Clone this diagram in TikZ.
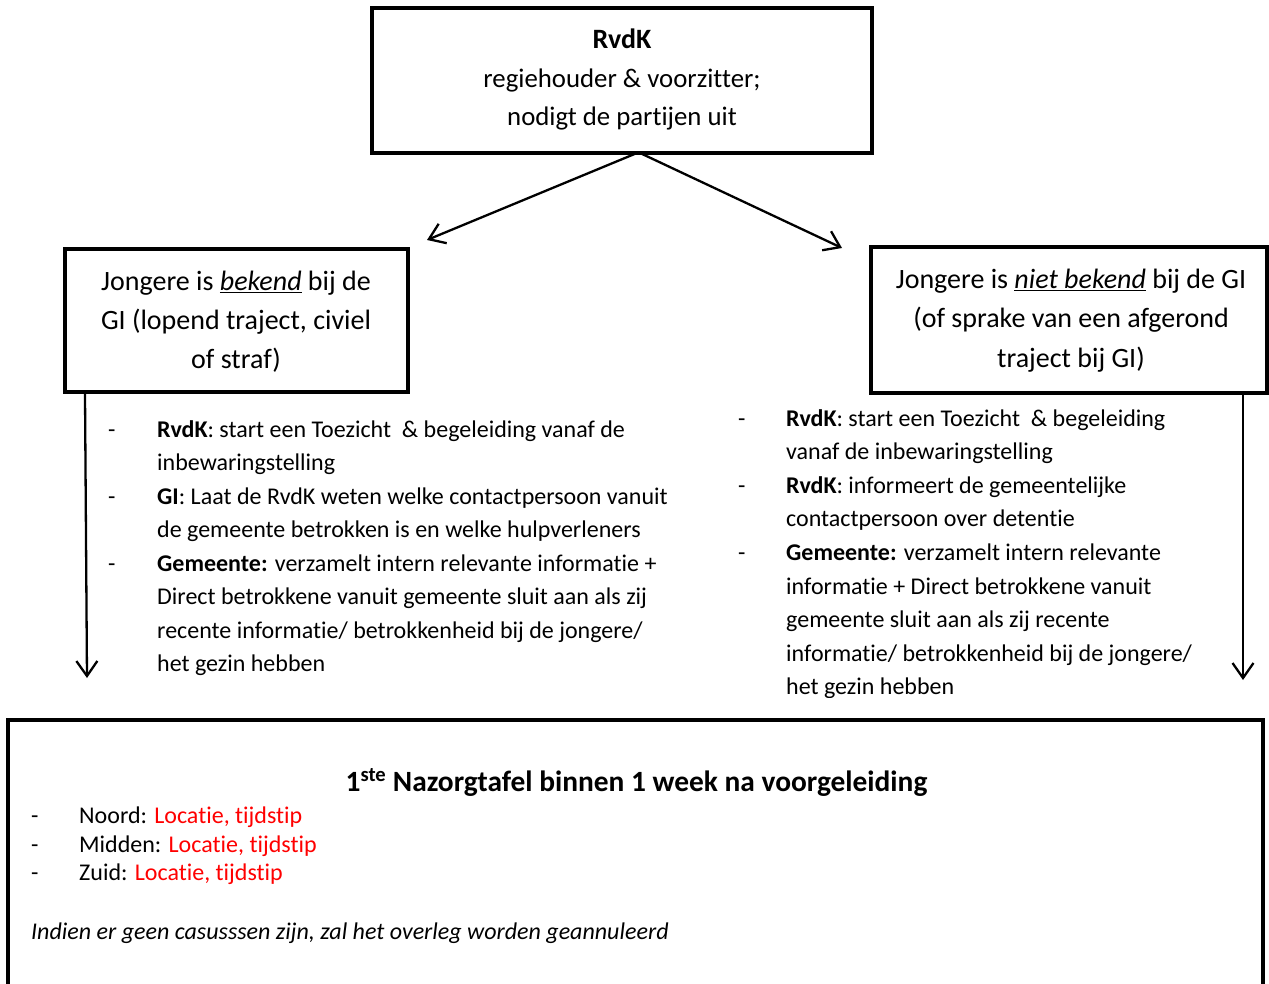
\documentclass[tikz,border=0pt]{standalone}
\usepackage{fontspec}
\setmainfont{Carlito}[Ligatures=NoCommon, Contextuals=NoAlternate, RawFeature={-liga;-clig;-calt;-dlig;-rlig;-ccmp}]
\usetikzlibrary{arrows.meta,calc}
\definecolor{locred}{RGB}{255,0,0}
\tikzset{
  boxstyle/.style={draw, line width=4pt, inner sep=0pt},
  conn/.style={line width=2.3pt, -{Straight Barb[length=15pt,width=21pt,line width=2.3pt]}},
  boxtext/.style={anchor=base, inner sep=0pt, font=\fontsize{28}{34}\selectfont},
  toptext/.style={anchor=base, inner sep=0pt, font=\fontsize{26.8}{34}\selectfont},
  bultext/.style={anchor=base west, inner sep=0pt, font=\fontsize{24}{29}\selectfont},
  bottext/.style={anchor=base west, inner sep=0pt, font=\fontsize{24}{29}\selectfont},
  titletext/.style={anchor=base, inner sep=0pt, font=\fontsize{29.4}{34}\selectfont\bfseries},
}
\begin{document}
\begin{tikzpicture}[x=1pt,y=-1pt]
\useasboundingbox (0,0) rectangle (1269,984);
\clip (0,0) rectangle (1269,984);

% boxes
\node (top) [boxstyle, minimum width=500pt, minimum height=145pt] at (622,80.5) {};
\node (left) [boxstyle, minimum width=343pt, minimum height=143pt] at (236.5,320.5) {};
\node (right) [boxstyle, minimum width=396pt, minimum height=146pt] at (1069,320) {};
\node (bottom) [boxstyle, minimum width=1255pt, minimum height=300pt] at (635.5,870) {};

% top box text
\node (t1) [boxtext] at (622,49) {\textbf{RvdK}};
\node (t2) [toptext] at (622,88) {regiehouder \& voorzitter;};
\node (t3) [toptext] at (622,126) {nodigt de partijen uit};

% left box text
\node (l1) [boxtext] at (236,290.5) {Jongere is \underline{\textit{bekend}} bij de};
\node (l2) [boxtext] at (236,329.5) {GI (lopend traject, civiel};
\node (l3) [boxtext] at (236,368.5) {of straf)};

% right box text
\node (r1) [boxtext] at (1071,288.5) {Jongere is \underline{\textit{niet bekend}} bij de GI};
\node (r2) [boxtext] at (1071,327.5) {(of sprake van een afgerond};
\node (r3) [boxtext] at (1071,367) {traject bij GI)};

% connectors
\coordinate (split1) at (637,153);
\coordinate (split2) at (640,153);
\coordinate (ltip) at (427,240);
\coordinate (rtip) at (842,248);
\draw[conn] (split1) -- (ltip);
\draw[conn] (split2) -- (rtip);
\coordinate (lstart) at ($(left.south west)+(22,0)$);
\coordinate (lend) at (87,678);
\coordinate (rstart) at (1243,393);
\coordinate (rend) at (1243,680);
\draw[conn] (lstart) -- (lend);
\draw[conn] (rstart) -- (rend);

% left bullets
\node (ld1) [bultext] at (108,437) {-};
\node (ld2) [bultext] at (108,504) {-};
\node (ld3) [bultext] at (108,571) {-};
\node (lb1) [bultext] at (157,437) {\textbf{RvdK}: start een Toezicht\ \ \& begeleiding vanaf de};
\node (lb2) [bultext] at (157,470.5) {inbewaringstelling};
\node (lb3) [bultext] at (157,504) {\textbf{GI}: Laat de RvdK weten welke contactpersoon vanuit};
\node (lb4) [bultext] at (157,537.5) {de gemeente betrokken is en welke hulpverleners};
\node (lb5) [bultext] at (157,571) {\textbf{Gemeente:} verzamelt intern relevante informatie +};
\node (lb6) [bultext] at (157,604.5) {Direct betrokkene vanuit gemeente sluit aan als zij};
\node (lb7) [bultext] at (157,638) {recente informatie/ betrokkenheid bij de jongere/};
\node (lb8) [bultext] at (157,671.5) {het gezin hebben};

% right bullets
\begin{scope}
\clip (700,395) rectangle (1230,697);
\node (rd1) [bultext] at (738,426) {-};
\node (rd2) [bultext] at (738,493.2) {-};
\node (rd3) [bultext] at (738,560.4) {-};
\node (rb1) [bultext] at (786,426) {\textbf{RvdK}: start een Toezicht\ \ \& begeleiding};
\node (rb2) [bultext] at (786,459.6) {vanaf de inbewaringstelling};
\node (rb3) [bultext] at (786,493.2) {\textbf{RvdK}: informeert de gemeentelijke};
\node (rb4) [bultext] at (786,526.8) {contactpersoon over detentie};
\node (rb5) [bultext] at (786,560.4) {\textbf{Gemeente:} verzamelt intern relevante};
\node (rb6) [bultext] at (786,594) {informatie + Direct betrokkene vanuit};
\node (rb7) [bultext] at (786,627.6) {gemeente sluit aan als zij recente};
\node (rb8) [bultext] at (786,661.2) {informatie/ betrokkenheid bij de jongere/};
\node (rb9) [bultext] at (786,694.8) {het gezin hebben};
\end{scope}

% bottom box text
\node (bt) [titletext] at (636.5,791) {1\textsuperscript{ste} Nazorgtafel binnen 1 week na voorgeleiding};
\node (bd1) [bottext] at (31,823) {-};
\node (bd2) [bottext] at (31,852) {-};
\node (bd3) [bottext] at (31,880) {-};
\node (bi1) [bottext] at (79,823) {Noord: \textcolor{locred}{Locatie, tijdstip}};
\node (bi2) [bottext] at (79,852) {Midden: \textcolor{locred}{Locatie, tijdstip}};
\node (bi3) [bottext] at (79,880) {Zuid: \textcolor{locred}{Locatie, tijdstip}};
\node (bnote) [bottext] at (31,939) {\textit{Indien er geen casusssen zijn, zal het overleg worden geannuleerd}};
\end{tikzpicture}
\end{document}
